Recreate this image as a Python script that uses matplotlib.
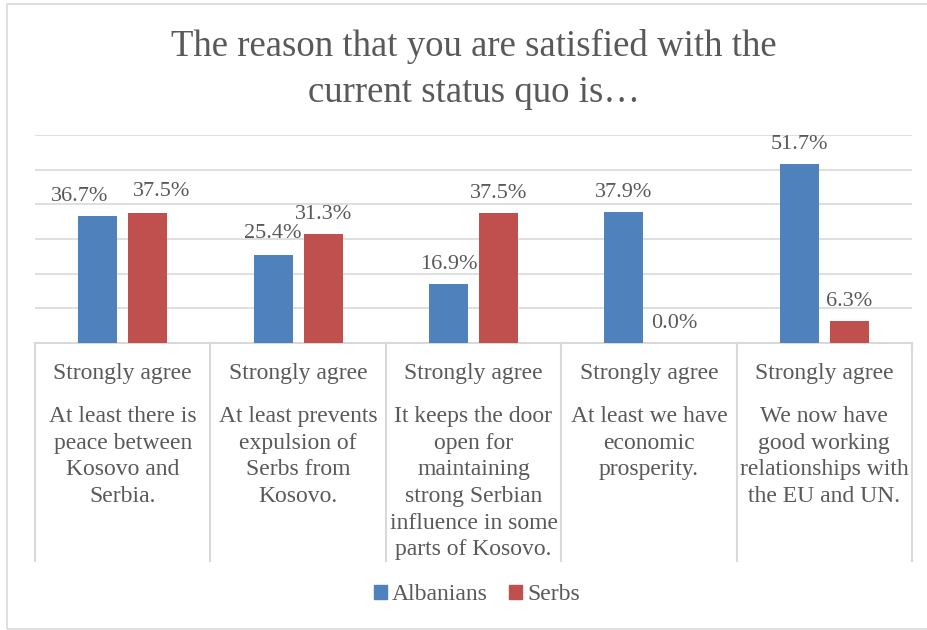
import numpy as np
import matplotlib
matplotlib.use("Agg")
import matplotlib.pyplot as plt
import matplotlib.transforms as mtransforms
from matplotlib.patches import Rectangle, Patch

# survey results, share answering "Strongly agree" (%)
reasons = [
    "At least there is\npeace between\nKosovo and\nSerbia.",
    "At least prevents\nexpulsion of\nSerbs from\nKosovo.",
    "It keeps the door\nopen for\nmaintaining\nstrong Serbian\ninfluence in some\nparts of Kosovo.",
    "At least we have\neconomic\nprosperity.",
    "We now have\ngood working\nrelationships with\nthe EU and UN.",
]
answer = "Strongly agree"
albanians = [36.7, 25.4, 16.9, 37.9, 51.7]
serbs = [37.5, 31.3, 37.5, 0.0, 6.3]
series_names = ["Albanians", "Serbs"]

BLUE = "#4F81BD"
RED = "#C0504D"
TEXT = "#595959"
GRID = "#D9D9D9"
W, H = 927, 630

plt.rcParams["font.family"] = ["Liberation Serif", "DejaVu Serif"]


def fx(px):
    return px / W


def fy(py):
    return 1 - py / H


fig = plt.figure(figsize=(W / 100, H / 100), dpi=100)
fig.patches.append(Rectangle((fx(7), fy(629)), 1.0, fy(4) - fy(629),
                             transform=fig.transFigure, fill=False,
                             edgecolor=GRID, lw=1.2))

ax = fig.add_axes([fx(35), fy(343), fx(912) - fx(35), fy(135) - fy(343)])
x = np.arange(len(reasons))
width = 0.222
off = 0.1425
b1 = ax.bar(x - off, albanians, width, color=BLUE, zorder=3)
b2 = ax.bar(x + off, serbs, width, color=RED, zorder=3)

ax.set_xlim(-0.5, len(reasons) - 0.5)
ax.set_ylim(0, 60)
ax.set_yticks(np.arange(0, 61, 10))
ax.yaxis.grid(True, color=GRID, lw=1.2, zorder=0)
ax.set_yticklabels([])
ax.set_xticks([])
ax.tick_params(left=False, bottom=False)
for s in ["left", "right", "top"]:
    ax.spines[s].set_visible(False)
ax.spines["bottom"].set_color(GRID)
ax.spines["bottom"].set_linewidth(1.5)

# value labels (first group was nudged sideways in the source layout)
nudge = {(0, 0): (-18, 0), (0, 1): (14, 2.5), (1, 0): (0, 2)}
for si, bars in enumerate([b1, b2]):
    for ci, r in enumerate(bars):
        dx, dy = nudge.get((ci, si), (0, 0))
        ax.annotate(f"{r.get_height():.1f}%",
                    (r.get_x() + r.get_width() / 2, r.get_height()),
                    xytext=(dx * 0.72, (15 + dy) * 0.72), textcoords="offset points",
                    ha="center", va="baseline", fontsize=16, color=TEXT)

# category table below the axis
tr = mtransforms.blended_transform_factory(ax.transData, fig.transFigure)
for b in np.arange(-0.5, len(reasons), 1.0):
    ax.plot([b, b], [fy(343), fy(561)], transform=tr, color=GRID, lw=1.5,
            clip_on=False, zorder=1)
for ci, txt in enumerate(reasons):
    ax.text(ci, fy(379), answer, transform=tr, ha="center", va="baseline",
            fontsize=17, color=TEXT)
    for li, line in enumerate(txt.split("\n")):
        ax.text(ci, fy(422 + li * 26.7), line, transform=tr, ha="center",
                va="baseline", fontsize=17, color=TEXT)

fig.text(fx(474), fy(56), "The reason that you are satisfied with the",
         ha="center", va="baseline", fontsize=26.5, color=TEXT)
fig.text(fx(474), fy(102), "current status quo is\u2026",
         ha="center", va="baseline", fontsize=26.5, color=TEXT)

handles = [Patch(color=BLUE), Patch(color=RED)]
fig.legend(handles, series_names, loc="center", bbox_to_anchor=(fx(477), fy(595)),
           ncol=2, frameon=False, fontsize=17, handlelength=0.55,
           handleheight=0.55, handletextpad=0.2, columnspacing=0.9,
           labelcolor=TEXT)

fig.savefig("out.png", dpi=100)
